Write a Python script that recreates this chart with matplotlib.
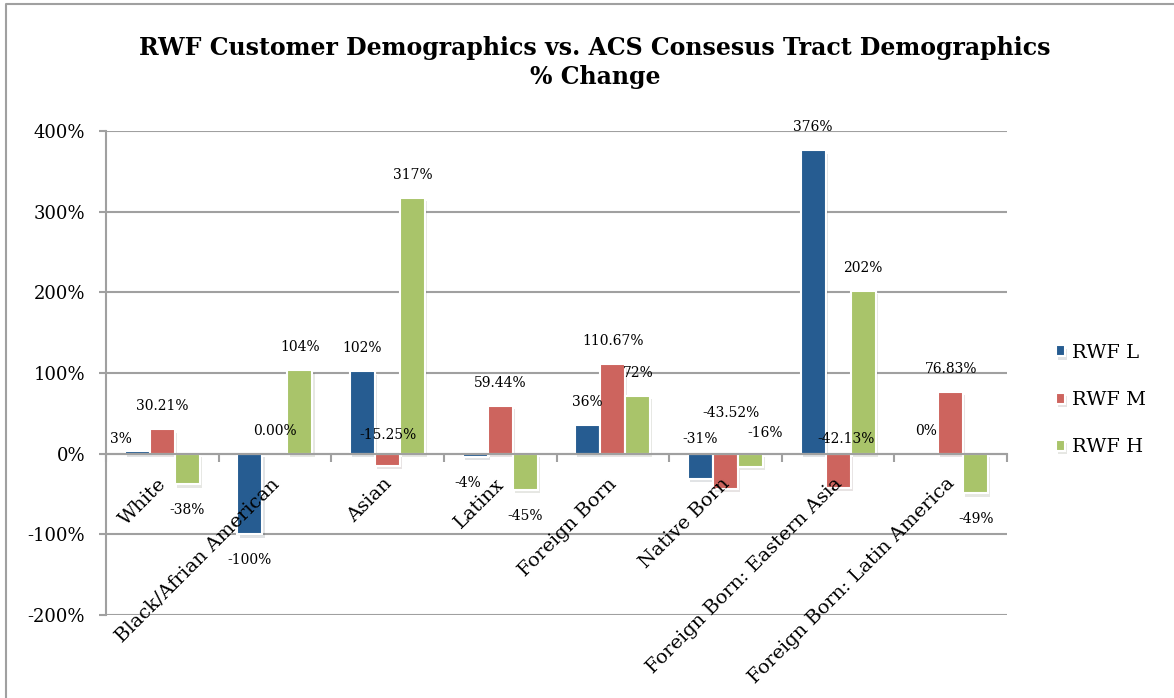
import matplotlib
matplotlib.use("Agg")
import matplotlib.pyplot as plt
import matplotlib.patheffects as pe
from matplotlib.lines import Line2D
from matplotlib.transforms import ScaledTranslation
import numpy as np

# data (% change)
categories = ["White", "Black/Afrian American", "Asian", "Latinx", "Foreign Born",
              "Native Born", "Foreign Born: Eastern Asia", "Foreign Born: Latin America"]
rwf_l = [3, -100, 102, -4, 36, -31, 376, 0]
rwf_m = [30.21, 0.00, -15.25, 59.44, 110.67, -43.52, -42.13, 76.83]
rwf_h = [-38, 104, 317, -45, 72, -16, 202, -49]
labels_l = ["3%", "-100%", "102%", "-4%", "36%", "-31%", "376%", "0%"]
labels_m = ["30.21%", "0.00%", "-15.25%", "59.44%", "110.67%", "-43.52%", "-42.13%", "76.83%"]
labels_h = ["-38%", "104%", "317%", "-45%", "72%", "-16%", "202%", "-49%"]
series_names = ["RWF L", "RWF M", "RWF H"]
y_ticks = [-200, -100, 0, 100, 200, 300, 400]

colors = ["#265C91", "#CD645E", "#A9C46A"]
grid_col = "#A0A0A0"
FONT = "DejaVu Serif"

# hand-placed labels (like in the original sheet): (series, cat) -> (dx px, dy px above zero line)
label_moves = {
    (0, 0): (-16, 15),
    (1, 2): (0, 19),
    (0, 5): (0, 15),
    (1, 5): (6, 41),
    (2, 5): (15, 21),
    (1, 6): (8, 15),
}


def main():
    fig = plt.figure(figsize=(11.74, 6.98), dpi=100)
    ax = fig.add_axes([106 / 1174, 1 - 615 / 698, 901 / 1174, 484 / 698])

    x = np.arange(len(categories))
    step = 0.222
    all_vals = [rwf_l, rwf_m, rwf_h]
    all_labels = [labels_l, labels_m, labels_h]
    shadow = [pe.SimplePatchShadow(offset=(1.5, -2.5), alpha=0.12), pe.Normal()]

    for s in range(3):
        xs = x + (s - 1) * step
        bars = ax.bar(xs, all_vals[s], width=step, color=colors[s], edgecolor="white",
                      linewidth=1.5, label=series_names[s], zorder=3)
        for b in bars:
            b.set_path_effects(shadow)
        for i in range(len(categories)):
            v = all_vals[s][i]
            if (s, i) in label_moves:
                dx, dy = label_moves[(s, i)]
                ax.annotate(all_labels[s][i], (xs[i], 0), xytext=(dx, dy),
                            textcoords="offset pixels", ha="center", va="center",
                            fontsize=10, family=FONT, zorder=7)
            elif v >= 0:
                ax.annotate(all_labels[s][i], (xs[i], v), xytext=(0, 23),
                            textcoords="offset pixels", ha="center", va="center",
                            fontsize=10, family=FONT, zorder=7)
            else:
                dx = -7 if (s, i) == (0, 3) else 0
                ax.annotate(all_labels[s][i], (xs[i], v), xytext=(dx, -26),
                            textcoords="offset pixels", ha="center", va="center",
                            fontsize=10, family=FONT, zorder=7)

    ax.set_xlim(-0.5, len(categories) - 0.5)
    ax.set_ylim(-200, 400)
    ax.set_yticks(y_ticks)
    ax.set_yticklabels([f"{t}%" for t in y_ticks], family=FONT, fontsize=13)
    ax.yaxis.grid(True, color=grid_col, linewidth=1.5)
    ax.set_axisbelow(True)
    ax.xaxis.set_zorder(6)

    for side in ["top", "right"]:
        ax.spines[side].set_visible(False)
    ax.spines["left"].set_color(grid_col)
    ax.spines["left"].set_linewidth(1.5)
    ax.spines["bottom"].set_position(("data", 0))
    ax.spines["bottom"].set_color(grid_col)
    ax.spines["bottom"].set_linewidth(1.5)
    ax.spines["bottom"].set_zorder(4)
    ax.tick_params(axis="y", length=5, width=1.5, color=grid_col, pad=10, direction="out")

    ax.set_xticks(x)
    ax.set_xticks(np.arange(len(categories) + 1) - 0.5, minor=True)
    ax.tick_params(axis="x", which="major", length=0, pad=15)
    ax.tick_params(axis="x", which="minor", length=6, width=1.5, color=grid_col, direction="out")
    ax.set_xticklabels(categories, rotation=45, ha="right", va="top",
                       rotation_mode="anchor", family=FONT, fontsize=14)
    offs = ScaledTranslation(-5 / 100, 0, fig.dpi_scale_trans)
    for lab in ax.get_xticklabels():
        lab.set_transform(lab.get_transform() + offs)

    fig.text(0.507, 1 - 48 / 698, "RWF Customer Demographics vs. ACS Consesus Tract Demographics",
             ha="center", va="center", fontsize=17, fontweight="bold", family=FONT)
    fig.text(0.507, 1 - 77 / 698, "% Change", ha="center", va="center",
             fontsize=17, fontweight="bold", family=FONT)

    ax.legend(loc="center left", bbox_to_anchor=(1038 / 1174, 1 - 400 / 698),
              bbox_transform=fig.transFigure, frameon=False,
              prop={"family": FONT, "size": 14}, handlelength=0.5, handleheight=0.5,
              handletextpad=0.35, labelspacing=1.5)

    # outer chart border (only top and left visible in the crop)
    fig.add_artist(Line2D([5.5 / 1174, 5.5 / 1174, 1.0], [0.0, 1 - 4 / 698, 1 - 4 / 698],
                          transform=fig.transFigure, color=grid_col, linewidth=1.5))

    fig.savefig("out.png", dpi=100)


if __name__ == "__main__":
    main()
